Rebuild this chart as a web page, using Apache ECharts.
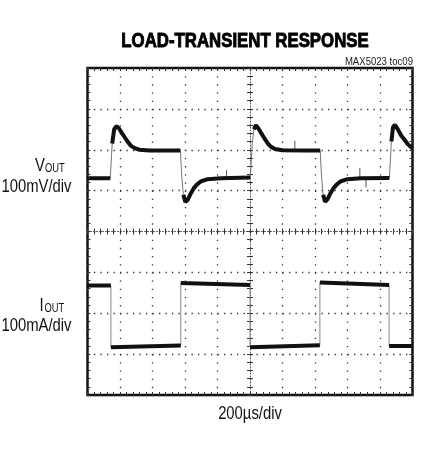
<!DOCTYPE html>
<html>
<head>
<meta charset="utf-8">
<script src="https://cdn.jsdelivr.net/npm/echarts@6/dist/echarts.min.js"></script>
<style>
  html, body { margin: 0; padding: 0; background: #fff; }
  #chart { width: 433px; height: 457px; }
</style>
</head>
<body>
<div id="chart"></div>
<script>
// scope screen: 10 divisions across, 8 divisions up
// VOUT trace (time in div, level in div from bottom)
const voutTime = [0, 0.70, 0.76, 0.82, 0.90, 0.97, 1.05, 1.15, 1.25, 1.35, 1.45, 1.6, 1.9, 2.4, 2.86,
  2.90, 2.95, 3.01, 3.08, 3.17, 3.27, 3.38, 3.5, 3.7, 4.1, 5.01,
  5.07, 5.12, 5.18, 5.26, 5.35, 5.45, 5.55, 5.65, 5.77, 6.0, 6.6, 7.16,
  7.20, 7.25, 7.31, 7.38, 7.47, 7.57, 7.68, 7.8, 8.0, 8.4, 9.29,
  9.35, 9.40, 9.46, 9.55, 9.65, 9.75, 9.85, 10.0];
const voutLevel = [5.30, 5.30, 6.15, 6.50, 6.58, 6.52, 6.42, 6.30, 6.18, 6.09, 6.04, 6.00, 5.98, 5.98, 5.98,
  5.35, 4.90, 4.72, 4.77, 4.92, 5.06, 5.16, 5.23, 5.28, 5.30, 5.32,
  6.15, 6.50, 6.60, 6.52, 6.40, 6.27, 6.15, 6.07, 6.02, 5.99, 5.98, 5.98,
  5.35, 4.90, 4.73, 4.78, 4.93, 5.06, 5.16, 5.23, 5.28, 5.30, 5.31,
  6.20, 6.55, 6.61, 6.50, 6.35, 6.25, 6.14, 6.03];
// a few noise spikes on VOUT: time, low, high
const spikeTime = [4.28, 6.38, 8.38, 8.57];
const spikeLow = [5.30, 5.98, 5.30, 5.08];
const spikeHigh = [5.50, 6.22, 5.55, 5.30];

// IOUT trace
const ioutTime = [0, 0.72, 0.72, 2.87, 2.87, 5.0, 5.0, 7.15, 7.15, 9.28, 9.28, 10];
const ioutLevel = [2.68, 2.68, 1.17, 1.21, 2.74, 2.69, 1.17, 1.22, 2.75, 2.69, 1.20, 1.20];

// split a trace into the slow (thick) part and the fast edges (thin, faint)
function splitTrace(ts, vs, limit) {
  const thick = [], thin = [];
  for (let i = 0; i < ts.length - 1; i++) {
    const dt = ts[i + 1] - ts[i];
    const steep = dt === 0 || Math.abs((vs[i + 1] - vs[i]) / dt) > limit;
    const target = steep ? thin : thick;
    const last = target[target.length - 1];
    if (!(last && last !== '-' && last[0] === ts[i] && last[1] === vs[i])) {
      if (target.length) target.push('-');
      target.push([ts[i], vs[i]]);
    }
    target.push([ts[i + 1], vs[i + 1]]);
  }
  return { thick, thin };
}

const vout = splitTrace(voutTime, voutLevel, 7);
const iout = splitTrace(ioutTime, ioutLevel, 7);
const spikes = [];
spikeTime.forEach((t, i) => {
  if (spikes.length) spikes.push('-');
  spikes.push([t, spikeLow[i]], [t, spikeHigh[i]]);
});

const chart = echarts.init(document.getElementById('chart'), null, { renderer: 'canvas' });

// no condensed face installed, so squeeze Liberation Sans horizontally
const FONT = '"Liberation Sans", Arial, sans-serif';
const GRID_H = 327;
const GRID_W = 325;

const tick = { show: true, inside: true, length: 3, lineStyle: { color: '#333', width: 1 } };
const minor = { show: true, splitNumber: 5, length: 3, lineStyle: { color: '#333', width: 1 } };

function xAx(position, extra) {
  return Object.assign({
    type: 'value', min: 0, max: 10, interval: 1, position,
    axisLine: { show: false, onZero: false },
    axisTick: tick, minorTick: minor,
    axisLabel: { show: false },
    splitLine: { show: false }
  }, extra);
}
function yAx(position, extra) {
  return Object.assign({
    type: 'value', min: 0, max: 8, interval: 1, position,
    axisLine: { show: false, onZero: false },
    axisTick: tick, minorTick: minor,
    axisLabel: { show: false },
    splitLine: { show: false }
  }, extra);
}
const centerLine = { show: true, onZero: false, lineStyle: { color: '#555', width: 1, type: [1, 2] } };
const outTick = Object.assign({}, tick, { inside: false });

function label(x, y, text, size, align, sx, extra) {
  return {
    type: 'text', x, y, scaleX: sx,
    style: Object.assign({ text, x: 0, y: 0, font: size + 'px ' + FONT, fill: '#111', align, verticalAlign: 'middle' }, extra)
  };
}

const option = {
  animation: false,
  backgroundColor: '#fff',
  grid: {
    left: 87.5, top: 68, width: GRID_W, height: GRID_H,
    show: true, borderColor: '#111', borderWidth: 2.5, backgroundColor: 'transparent'
  },
  xAxis: [
    xAx('bottom', { splitLine: { show: true, lineStyle: { color: '#333', width: 1.3, type: [1.3, 6.875] } } }),
    xAx('top'),
    // centre cross-hair, ticks on both sides
    xAx('bottom', { offset: -GRID_H / 2, axisLine: centerLine, axisTick: outTick }),
    xAx('top', { offset: -GRID_H / 2, axisTick: outTick })
  ],
  yAxis: [
    yAx('left', { splitLine: { show: true, lineStyle: { color: '#333', width: 1.3, type: [1.3, 5.2] } } }),
    yAx('right'),
    yAx('left', { offset: -GRID_W / 2, axisLine: centerLine, axisTick: outTick }),
    yAx('right', { offset: -GRID_W / 2, axisTick: outTick })
  ],
  series: [
    { type: 'line', data: vout.thin, showSymbol: false, lineStyle: { color: '#777', width: 1 }, z: 3 },
    { type: 'line', data: iout.thin, showSymbol: false, lineStyle: { color: '#888', width: 1 }, z: 3 },
    { type: 'line', data: spikes, showSymbol: false, lineStyle: { color: '#555', width: 1 }, z: 3 },
    { type: 'line', data: vout.thick, showSymbol: false, lineStyle: { color: '#111', width: 4 }, z: 4 },
    { type: 'line', data: iout.thick, showSymbol: false, lineStyle: { color: '#111', width: 4 }, z: 4 }
  ],
  graphic: [
    label(245, 41.5, 'LOAD-TRANSIENT RESPONSE', 20, 'center', 0.84,
      { font: 'bold 20px ' + FONT, fill: '#000', stroke: '#000', lineWidth: 0.9 }),
    label(413, 61.5, 'MAX5023 toc09', 11, 'right', 0.87, { fill: '#222' }),
    label(35, 165.5, 'V', 19, 'left', 0.78),
    label(45, 168.5, 'OUT', 12, 'left', 0.78),
    label(71.5, 186.5, '100mV/div', 19, 'right', 0.78),
    label(39.5, 305.5, 'I', 19, 'left', 0.78),
    label(44.5, 308.5, 'OUT', 12, 'left', 0.78),
    label(71.5, 325.5, '100mA/div', 19, 'right', 0.78),
    label(250, 414, '200\u00b5s/div', 19, 'center', 0.78)
  ]
};

chart.setOption(option);
</script>
</body>
</html>
